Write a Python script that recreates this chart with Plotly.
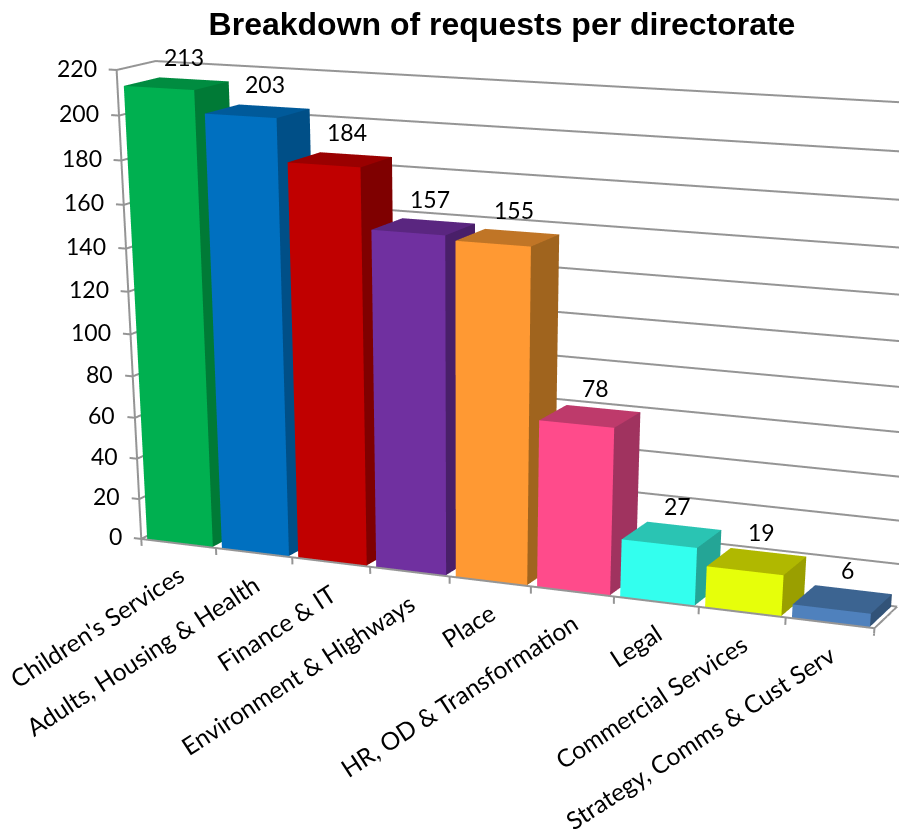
import plotly.graph_objects as go

categories = ["Children's Services","Adults, Housing & Health","Finance & IT","Environment & Highways","Place","HR, OD & Transformation","Legal","Commercial Services","Strategy, Comms & Cust Serv"]
requests = [213,203,184,157,155,78,27,19,6]
z_ticks = list(range(0,221,20))
front = ["#00B050","#0070C0","#C00000","#7030A0","#FF9933","#FF4B8B","#33FFEE","#E6FF0A","#4F81BD"]
top = ["#008C40","#005A9A","#9A0000","#5A2680","#C07526","#BE3A6B","#2AC4B3","#B0B800","#3C6491"]
side = ["#007A36","#004F87","#7F0000","#491F69","#A0641E","#A0335F","#24A596","#9A9F00","#325378"]

GX, GY = 0.06, 0.04
XR = [-0.12, 9.0]
YR = [0.0, 1.0]
ZR = [-6.0, 222.0]
# A tall scene narrows the fixed 45-degree field of view to the reference's long-lens perspective;
# only the top 836 px of the page are in the window.
H = 2400
GRID = '#959595'
FONT = 'Lato'

fig = go.Figure()
for i, v in enumerate(requests):
    x0, x1, y0, y1 = i + GX, i + 1 - GX, GY, 1 - GY
    xs = [x0, x1, x1, x0, x0, x1, x1, x0]
    ys = [y0, y0, y1, y1, y0, y0, y1, y1]
    zs = [0, 0, 0, 0, v, v, v, v]
    I = [0, 0, 4, 4, 1, 1]
    J = [1, 5, 5, 6, 2, 6]
    K = [5, 4, 6, 7, 6, 5]
    fc = [front[i]] * 2 + [top[i]] * 2 + [side[i]] * 2
    fig.add_trace(go.Mesh3d(x=xs, y=ys, z=zs, i=I, j=J, k=K, facecolor=fc, flatshading=True,
                            lighting=dict(ambient=1, diffuse=0, specular=0, fresnel=0, roughness=1),
                            hoverinfo='skip'))
for t in z_ticks:
    fig.add_trace(go.Scatter3d(x=[-0.1, 0, 0, 9], y=[0, 0, 1, 1], z=[t, t, t, t], mode='lines',
                               line=dict(color=GRID, width=4), hoverinfo='skip'))
fig.add_trace(go.Scatter3d(x=[0, 0], y=[0, 0], z=[0, 220], mode='lines', line=dict(color=GRID, width=4), hoverinfo='skip'))
fig.add_trace(go.Scatter3d(x=[0, 9, 9], y=[0, 0, 1], z=[0, 0, 0], mode='lines', line=dict(color=GRID, width=4), hoverinfo='skip'))
for i in range(10):
    fig.add_trace(go.Scatter3d(x=[i, i], y=[0, 0], z=[0, -3.5], mode='lines', line=dict(color=GRID, width=4), hoverinfo='skip'))

ann = []
for i, (c, v) in enumerate(zip(categories, requests)):
    ann.append(dict(x=i + 0.5, y=0.7, z=v, text=str(v), showarrow=False, yanchor='bottom', yshift=9,
                    font=dict(family=FONT, size=23, color='black')))
    ann.append(dict(x=i + 0.5, y=0, z=0, text=c, showarrow=False, xanchor='right', yanchor='top',
                    xshift=13, yshift=-14, textangle=-33, font=dict(family=FONT, size=24.5, color='black')))
for t in z_ticks:
    ann.append(dict(x=-0.1, y=0, z=t, text=str(t), showarrow=False, xanchor='right', xshift=-10, yshift=2,
                    font=dict(family=FONT, size=23, color='black')))

fig.update_layout(
    width=907, height=H, margin=dict(l=0, r=0, t=0, b=0), showlegend=False, paper_bgcolor='white',
    title=dict(text='<b>Breakdown of requests per directorate</b>', x=494 / 907, xanchor='center',
               y=1 - 16 / H, yanchor='middle', font=dict(family='Liberation Sans', size=32, color='black')),
    scene=dict(
        xaxis=dict(visible=False, range=XR),
        yaxis=dict(visible=False, range=YR),
        zaxis=dict(visible=False, range=ZR),
        aspectmode='manual', aspectratio=dict(x=1, y=0.0967, z=0.5927),
        domain=dict(x=[0, 1], y=[0, 1]), annotations=ann,
        camera=dict(eye=dict(x=1.3894, y=-3.3058, z=0.7264),
                    center=dict(x=0.0984, y=-0.3475, z=-0.9964),
                    up=dict(x=-0.0087, y=0, z=1),
                    projection=dict(type='perspective')),
    ),
)
fig.write_html("out.html")
